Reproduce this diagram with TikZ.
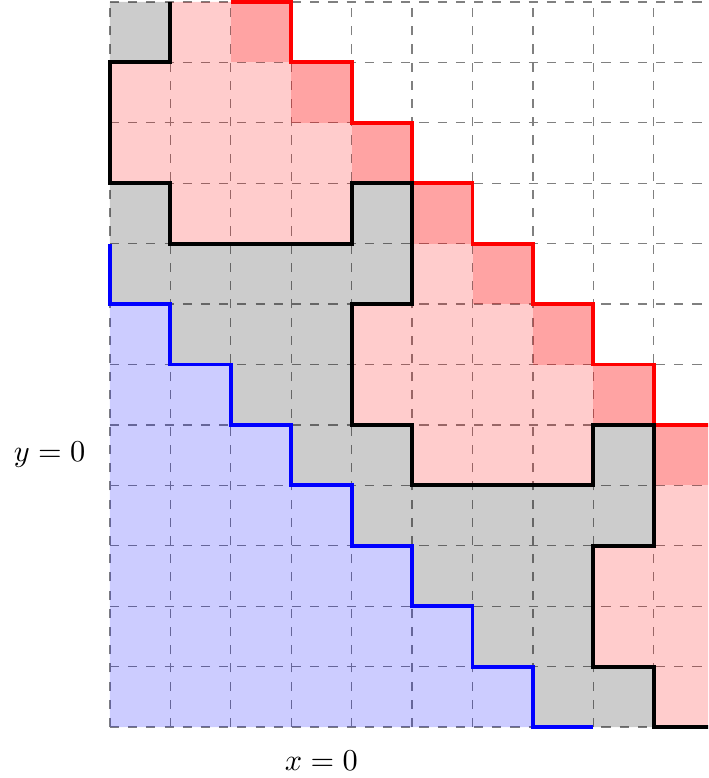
\documentclass[tikz,border=0pt]{standalone}
\usepackage{amsmath, amssymb}
\usepackage{tikz}
\usetikzlibrary{calc}

\begin{document}
\begin{tikzpicture}[x=0.7cm, y=0.7cm, line join=miter,
        cellfill/.style={fill opacity=0.2},
        border/.style={line width=1.3pt}]
        \pgfmathsetmacro{\W}{10}
        \pgfmathsetmacro{\H}{12}
        \clip (-1.82, -0.843) rectangle (9.9, 12.033);
        \draw[gray, dashed, step=1] (0, 0) grid (\W, \H);
        % blue staircase
        \fill[blue, cellfill] (0, 0) foreach \k in {0,...,6} { -- (\k, 7-\k) -- (\k+1, 7-\k) } -- (7, 0) -- cycle;
        % gray band
        \fill[black, cellfill] (0, 11) rectangle (1, 12)
            (0, 7) -- (0, 9) -- (1, 9) -- (1, 8) -- (4, 8) -- (4, 9) -- (5, 9) -- (5, 7) -- (4, 7)
            -- (4, 5) -- (5, 5) -- (5, 4) -- (8, 4) -- (8, 5) -- (9, 5) -- (9, 3) -- (8, 3) -- (8, 1)
            -- (9, 1) -- (9, 0) -- (7, 0) -- (7, 1) -- (6, 1) -- (6, 2) -- (5, 2) -- (5, 3) -- (4, 3)
            -- (4, 4) -- (3, 4) -- (3, 5) -- (2, 5) -- (2, 6) -- (1, 6) -- (1, 7) -- cycle;
        % red regions
        \fill[red, cellfill]
            (1, 12) -- (3, 12) -- (3, 11) -- (4, 11) -- (4, 10) -- (5, 10) -- (5, 9) -- (4, 9)
            -- (4, 8) -- (1, 8) -- (1, 9) -- (0, 9) -- (0, 11) -- (1, 11) -- cycle
            (5, 9) -- (6, 9) -- (6, 8) -- (7, 8) -- (7, 7) -- (8, 7) -- (8, 6) -- (9, 6) -- (9, 5)
            -- (8, 5) -- (8, 4) -- (5, 4) -- (5, 5) -- (4, 5) -- (4, 7) -- (5, 7) -- cycle
            (9, 5) -- (10, 5) -- (10, 0) -- (9, 0) -- (9, 1) -- (8, 1) -- (8, 3) -- (9, 3) -- cycle;
        \foreach \k in {0,...,7}
            \fill[red, cellfill] (2+\k, 11-\k) rectangle ++(1, 1);
        % borders
        \draw[blue, border] (0, 8) foreach \k in {0,...,7} { -- (\k, 7-\k) -- (\k+1, 7-\k) };
        \draw[red, border] (2, 12) foreach \k in {0,...,6} { -- (3+\k, 12-\k) -- (3+\k, 11-\k) } -- (10, 5);
        \draw[border] (1, 12) -- (1, 11) -- (0, 11) -- (0, 9) -- (1, 9) -- (1, 8) -- (4, 8) -- (4, 9)
            -- (5, 9) -- (5, 7) -- (4, 7) -- (4, 5) -- (5, 5) -- (5, 4) -- (8, 4) -- (8, 5) -- (9, 5)
            -- (9, 3) -- (8, 3) -- (8, 1) -- (9, 1) -- (9, 0) -- (10, 0);
        \node (ylab) at (-1, 4.5) {$y = 0$};
        \node (xlab) at (3.5, -0.55) {$x = 0$};
    \end{tikzpicture}
\end{document}
